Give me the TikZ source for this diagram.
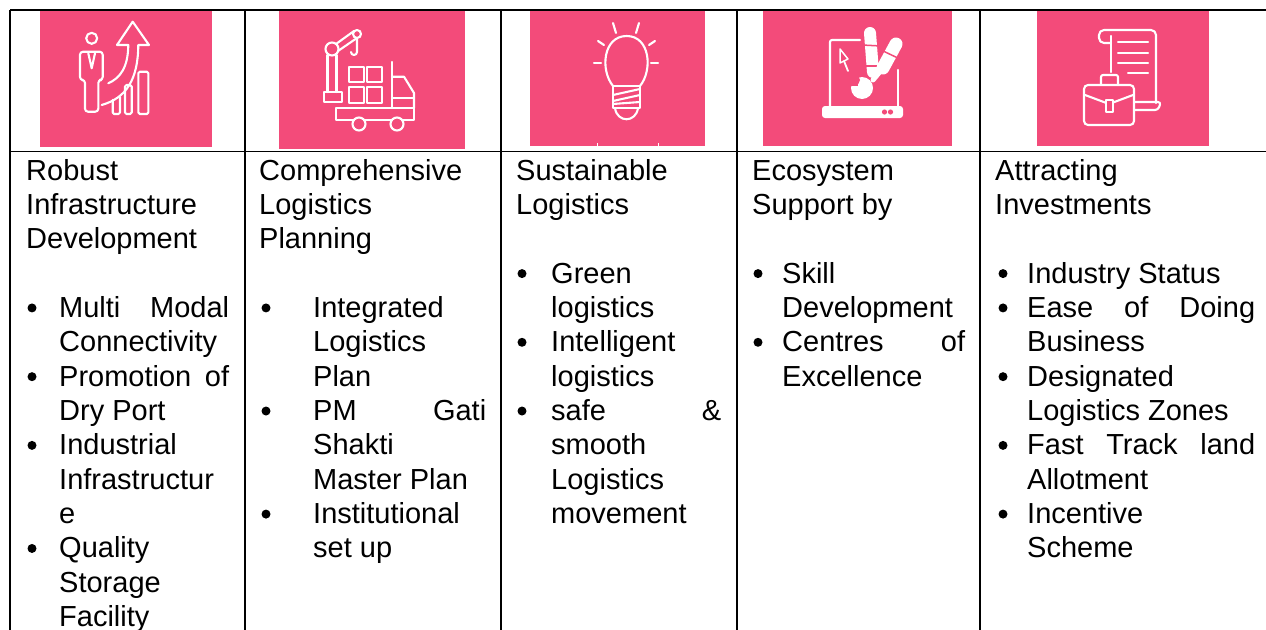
\documentclass[tikz,border=0pt]{standalone}
\usepackage{fontspec}
\setmainfont{Liberation Sans}
\definecolor{iconpink}{HTML}{F34B7A}
\tikzset{
  grid/.style={line width=1.8pt, black},
  txt/.style={anchor=base west, inner sep=0pt, font=\fontsize{29}{34}\selectfont},
  bul/.style={circle, fill=black, inner sep=0pt, minimum size=9pt},
  ic/.style={draw=white, line width=2.1pt, line cap=round, line join=round},
}
\newcommand\myLine[4]{\node[txt] (#1) at (#2,{180+34.36*#3}) {#4};}
\newcommand\myJust[5]{\node[txt] (#1) at (#2,{180+34.36*#3}) {\hbox to #4pt{#5}};}
\newcommand\myBul[3]{\node[bul] (#1) at (#2,{170.5+34.36*#3}) {};}
\begin{document}
\begin{tikzpicture}[x=1pt,y=-1pt]
\useasboundingbox (0,0) rectangle (1266,629);
\fill[white] (0,0) rectangle (1266,629);

% ---------- icon backgrounds ----------
\fill[iconpink] (40,11) rectangle (212,147);
\fill[iconpink] (279,11) rectangle (465,149);
\fill[iconpink] (530,11) rectangle (705,146);
\fill[iconpink] (763,11) rectangle (952,146);
\fill[iconpink] (1037,11) rectangle (1209,146);

% ---------- icon 1: person and growth ----------
\draw[ic] (91.7,38.3) circle (5.5);
\draw[ic, rounded corners=3] (85,111.7) -- (85,80) -- (80,80) -- (80,51.7) -- (102.7,51.7) -- (102.7,80) -- (98.3,80) -- (98.3,111.7) -- cycle;
\draw[ic] (88.3,53.3) -- (91.7,68.3) -- (95,53.3);
\draw[ic] (101.7,105) .. controls (126,98) and (138,80) .. (138.3,45) -- (149,45) -- (132.7,21.7) -- (117,45) -- (128.3,45) .. controls (128,68) and (120,78) .. (108.3,83.3);
\draw[ic, rounded corners=1.5] (112.7,100) -- (112.7,114) -- (120,114) -- (120,97);
\draw[ic, rounded corners=1.5] (125,85) rectangle (131.7,114);
\draw[ic, rounded corners=1.5] (138.3,71.7) rectangle (148.3,114);

% ---------- icon 2: crane and truck ----------
\draw[ic] (324,92) rectangle (342,102);
\draw[ic] (327.5,55) -- (327.5,92);
\draw[ic] (336.5,55) -- (336.5,92);
\draw[ic] (336,44) -- (354,31);
\draw[ic] (338,51) -- (357,38);
\draw[ic] (332,49) circle (6.5);
\draw[ic] (357,34) circle (4);
\draw[ic] (357,38) -- (357,52) arc[start angle=0, end angle=180, radius=3];
\draw[ic] (349,67) rectangle (364,81.7);
\draw[ic] (367,67) rectangle (382,81.7);
\draw[ic] (349,87) rectangle (364,102.7);
\draw[ic] (367,87) rectangle (382,102.7);
\draw[ic] (392,62) -- (392,108);
\draw[ic] (392,76.7) -- (404,76.7) -- (414,93) -- (414,108);
\draw[ic] (392,98) -- (414,98);
\draw[ic] (336,108) rectangle (414,120);
\filldraw[ic, fill=iconpink] (359,124) circle (6.5);
\filldraw[ic, fill=iconpink] (397,124) circle (6.5);

% ---------- icon 3: light bulb ----------
\draw[ic] (613,86) .. controls (600,70) and (603,36) .. (626.7,36) .. controls (650,36) and (653,70) .. (640,86);
\draw[ic] (613,86) -- (640,86);
\draw[ic] (613,86) -- (613,108) -- (640,108) -- (640,86);
\draw[ic] (613,95) -- (640,89);
\draw[ic] (613,101) -- (640,95);
\draw[ic] (613,104) -- (640,102);
\draw[ic] (615,108) .. controls (617,123) and (636,123) .. (638,108);
\draw[ic] (613,23) -- (616,33);
\draw[ic] (639,23) -- (636,33);
\draw[ic] (598,41) -- (604,45);
\draw[ic] (655,41) -- (649,45);
\draw[ic] (594,63) -- (601,63);
\draw[ic] (651,63) -- (658,63);
\draw[white, line width=1pt] (597,143) -- (597,146);
\draw[white, line width=1pt] (658,143) -- (658,146);

% ---------- icon 4: laptop and tools ----------
\draw[ic, rounded corners=2] (860,40) -- (830,40) -- (830,107);
\draw[ic] (898,70) -- (898,107);
\fill[white, rounded corners=3] (822,106) rectangle (903,118);
\fill[iconpink] (884.5,112) circle (2.6);
\fill[iconpink] (890.5,112) circle (2.6);
\draw[white, line width=1.5pt, line join=round] (840,49) -- (840,63) -- (848,59) -- cycle;
\draw[white, line width=1.8pt, line cap=round] (844,61) -- (848,71);
% wrench
\draw[white, line width=12pt, line cap=round] (870,33) -- (873,72);
\fill[white] (862,88) circle (11);
\fill[iconpink] (855,80) circle (5);
\fill[iconpink] (850,78) rectangle (858,86);
\draw[iconpink, line width=1.5pt] (862,45) -- (881,46);
\draw[iconpink, line width=1.5pt] (863,66) -- (882,66);
% screwdriver
\draw[white, line width=13pt, line cap=round] (896,44) -- (883,68);
\draw[white, line width=5pt, line cap=round] (883,68) -- (873,80);
\draw[iconpink, line width=1.5pt] (881,50) -- (902,60);

% ---------- icon 5: scroll and briefcase ----------
\draw[ic, rounded corners=5] (1111,43) -- (1099,43) -- (1099,30) -- (1156,30) -- (1156,103);
\draw[ic] (1111,36) -- (1111,72);
\draw[ic, rounded corners=3] (1134,102) -- (1161,102) -- (1158,110) -- (1134,110);
\draw[ic] (1118,42) -- (1148,42);
\draw[ic] (1118,53) -- (1148,53);
\draw[ic] (1118,63) -- (1148,63);
\draw[ic] (1128,73) -- (1148,73);
\draw[ic, rounded corners=2] (1101,85) -- (1101,75) -- (1118,75) -- (1118,85);
\filldraw[ic, fill=iconpink, rounded corners=4] (1084,85) rectangle (1134,125);
\draw[ic] (1085,95) -- (1109,104) -- (1133,95);
\filldraw[ic, fill=iconpink] (1106,100) rectangle (1113,112);

% ---------- table grid ----------
\draw[grid] (10,10) -- (1275,10);
\draw[grid] (10,151.5) -- (1275,151.5);
\draw[grid] (10,10) -- (10,640);
\draw[grid] (245,10) -- (245,640);
\draw[grid] (501,10) -- (501,640);
\draw[grid] (737,10) -- (737,640);
\draw[grid] (980,10) -- (980,640);

% ---------- column 1 ----------
\myLine{a0}{26}{0}{Robust}
\myLine{a1}{26}{1}{Infrastructure}
\myLine{a2}{26}{2}{Development}
\myBul{ab1}{32}{4}
\myJust{a4}{59}{4}{170}{Multi\hfill Modal}
\myLine{a5}{59}{5}{Connectivity}
\myBul{ab2}{32}{6}
\myJust{a6}{59}{6}{170}{Promotion\hfill of}
\myLine{a7}{59}{7}{Dry Port}
\myBul{ab3}{32}{8}
\myLine{a8}{59}{8}{Industrial}
\myLine{a9}{59}{9}{Infrastructur}
\myLine{a10}{59}{10}{e}
\myBul{ab4}{32}{11}
\myLine{a11}{59}{11}{Quality}
\myLine{a12}{59}{12}{Storage}
\myLine{a13}{59}{13}{Facility}

% ---------- column 2 ----------
\myLine{b0}{259}{0}{Comprehensive}
\myLine{b1}{259}{1}{Logistics}
\myLine{b2}{259}{2}{Planning}
\myBul{bb1}{266}{4}
\myLine{b4}{313}{4}{Integrated}
\myLine{b5}{313}{5}{Logistics}
\myLine{b6}{313}{6}{Plan}
\myBul{bb2}{266}{7}
\myJust{b7}{313}{7}{173}{PM\hfill Gati}
\myLine{b8}{313}{8}{Shakti}
\myLine{b9}{313}{9}{Master Plan}
\myBul{bb3}{266}{10}
\myLine{b10}{313}{10}{Institutional}
\myLine{b11}{313}{11}{set up}

% ---------- column 3 ----------
\myLine{c0}{516}{0}{Sustainable}
\myLine{c1}{516}{1}{Logistics}
\myBul{cb1}{522}{3}
\myLine{c3}{551}{3}{Green}
\myLine{c4}{551}{4}{logistics}
\myBul{cb2}{522}{5}
\myLine{c5}{551}{5}{Intelligent}
\myLine{c6}{551}{6}{logistics}
\myBul{cb3}{522}{7}
\myJust{c7}{551}{7}{170}{safe\hfill\&}
\myLine{c8}{551}{8}{smooth}
\myLine{c9}{551}{9}{Logistics}
\myLine{c10}{551}{10}{movement}

% ---------- column 4 ----------
\myLine{d0}{752}{0}{Ecosystem}
\myLine{d1}{752}{1}{Support by}
\myBul{db1}{758}{3}
\myLine{d3}{782}{3}{Skill}
\myLine{d4}{782}{4}{Development}
\myBul{db2}{758}{5}
\myJust{d5}{782}{5}{183}{Centres\hfill of}
\myLine{d6}{782}{6}{Excellence}

% ---------- column 5 ----------
\myLine{e0}{995}{0}{Attracting}
\myLine{e1}{995}{1}{Investments}
\myBul{eb1}{1003}{3}
\myLine{e3}{1027}{3}{Industry Status}
\myBul{eb2}{1003}{4}
\myJust{e4}{1027}{4}{228}{Ease\hfill of\hfill Doing}
\myLine{e5}{1027}{5}{Business}
\myBul{eb3}{1003}{6}
\myLine{e6}{1027}{6}{Designated}
\myLine{e7}{1027}{7}{Logistics Zones}
\myBul{eb4}{1003}{8}
\myJust{e8}{1027}{8}{228}{Fast\hfill Track\hfill land}
\myLine{e9}{1027}{9}{Allotment}
\myBul{eb5}{1003}{10}
\myLine{e10}{1027}{10}{Incentive}
\myLine{e11}{1027}{11}{Scheme}
\end{tikzpicture}
\end{document}
